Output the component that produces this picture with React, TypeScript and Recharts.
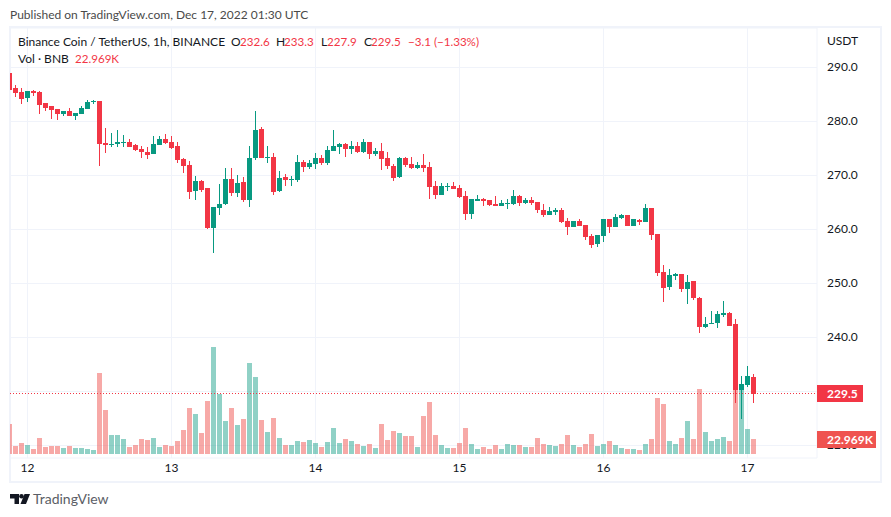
import React from "react";
import { ComposedChart, Bar, XAxis, YAxis, CartesianGrid, ReferenceLine } from "recharts";

// Rows are [open, high, low, close, volume in thousands], one per hour.
const dec11: number[][] = [
  [289.0,289.0,285.8,285.8,45.9],[286.2,286.8,284.5,285.3,12.2],[285.5,286.2,283.2,284.2,16.8],
];
const dec12: number[][] = [
  [284.4,285.7,283.6,285.7,13.8],[285.7,285.8,284.7,285.3,7.7],[285.5,285.7,281.4,283.1,24.5],[283.4,283.4,281.9,282.5,10.7],
  [282.9,282.9,280.5,282.1,12.2],[282.3,282.3,280.3,281.4,12.2],[281.4,281.9,281.0,281.9,9.2],[281.9,282.5,281.0,281.0,12.2],
  [281.0,281.6,280.3,281.6,9.2],[281.4,282.9,281.4,282.5,9.2],[282.3,284.0,282.3,283.6,7.7],[283.6,284.0,283.2,283.8,6.1],
  [283.8,283.8,271.8,275.8,123.9],[276.0,278.8,274.2,275.7,67.3],[275.7,277.9,275.3,275.8,29.1],[275.8,278.4,275.3,276.2,29.1],
  [276.0,277.5,275.3,276.2,23.0],[276.2,276.8,275.3,275.3,10.7],[275.7,275.8,274.5,274.7,13.8],[274.9,275.5,273.2,274.4,23.0],
  [274.4,275.3,273.1,273.8,21.4],[274.0,277.3,274.0,275.8,24.5],[275.7,277.3,275.7,276.8,10.7],[276.8,277.7,275.8,276.0,13.8],
];
const dec13: number[][] = [
  [276.2,277.3,274.9,275.1,12.2],[275.5,276.2,272.3,272.9,19.9],[273.1,273.2,270.5,271.8,36.7],[271.9,272.7,265.7,266.9,70.4],
  [267.1,269.9,265.5,269.0,61.2],[269.0,269.2,266.9,267.3,32.1],[267.7,267.7,260.1,260.3,81.1],[260.3,264.2,255.7,264.2,163.7],
  [264.0,268.4,262.7,264.7,91.8],[264.7,271.4,264.5,269.4,50.5],[269.4,271.4,266.2,266.8,70.4],[266.8,270.1,266.0,268.6,44.4],
  [268.8,269.7,265.1,265.5,53.6],[265.5,275.5,264.2,273.2,139.2],[273.2,281.9,272.9,278.4,117.8],[278.6,279.0,273.2,273.2,52.0],
  [273.2,275.5,272.3,273.4,33.7],[273.4,274.2,266.4,266.9,55.1],[267.1,270.8,266.9,269.5,24.5],[269.7,270.3,268.1,269.2,13.8],
  [269.2,269.9,268.1,269.4,13.8],[269.2,273.8,268.8,272.5,19.9],[272.5,272.9,270.7,271.6,18.4],[271.6,272.9,271.2,272.3,21.4],
];
const dec14: number[][] = [
  [272.1,274.2,271.2,273.2,16.8],[273.2,273.8,271.9,272.3,10.7],[272.3,275.5,271.9,274.7,18.4],[274.5,278.4,274.5,275.5,39.8],
  [275.3,276.0,274.0,275.8,16.8],[275.8,276.0,273.4,274.9,23.0],[274.9,276.4,274.0,275.5,19.9],[275.5,276.2,274.2,274.4,15.3],
  [274.4,276.8,274.2,276.2,12.2],[276.2,276.2,273.1,274.0,15.3],[274.0,275.1,273.6,274.5,9.2],[274.5,276.0,271.0,273.1,45.9],
  [273.2,274.4,271.2,271.8,21.4],[271.8,272.1,269.0,269.5,35.2],[269.7,273.4,269.5,273.2,32.1],[273.2,273.4,271.6,271.9,27.5],
  [272.1,273.4,271.2,271.4,27.5],[271.4,272.5,271.2,271.9,10.7],[271.9,274.0,270.7,271.4,58.1],[271.6,272.5,265.7,267.9,79.6],
  [268.1,269.0,265.7,266.4,29.1],[266.4,268.6,266.4,268.1,13.8],[267.9,268.6,267.1,268.1,9.2],[268.1,268.8,267.5,267.5,9.2],
];
const dec15: number[][] = [
  [267.7,268.2,265.8,266.0,16.8],[266.2,267.1,261.8,262.9,39.8],[262.9,265.7,262.0,265.7,15.3],[265.3,266.4,265.3,265.7,7.7],
  [265.7,265.8,264.4,265.3,10.7],[265.5,265.5,264.4,264.5,7.7],[264.7,266.2,264.4,264.4,13.8],[264.4,265.5,264.4,264.9,7.7],
  [264.7,265.7,263.8,264.9,15.3],[264.7,267.3,264.5,266.2,13.8],[266.2,266.4,264.4,264.9,13.8],[264.9,265.8,264.7,265.5,10.7],
  [265.5,266.0,264.5,264.9,10.7],[265.1,265.1,263.1,263.6,24.5],[263.6,264.7,262.3,262.7,15.3],[262.7,264.2,262.7,263.4,13.8],
  [263.2,264.0,262.7,263.6,12.2],[263.6,264.0,261.2,261.4,15.3],[261.6,262.1,259.0,260.5,29.1],[260.5,261.6,260.5,261.6,13.8],
  [261.6,262.0,260.7,260.7,10.7],[260.8,260.8,258.1,258.6,15.3],[258.8,259.2,256.6,257.1,30.6],[257.3,259.0,256.8,259.0,12.2],
];
const dec16: number[][] = [
  [258.8,262.0,257.7,262.0,15.3],[262.0,262.0,259.4,260.5,19.9],[260.5,262.9,260.5,262.3,13.8],[262.1,262.9,262.0,262.7,9.2],
  [262.7,262.7,260.7,260.7,7.7],[260.7,262.0,260.7,262.0,7.7],[261.8,262.0,260.8,261.4,6.1],[261.4,264.7,261.4,264.0,15.3],
  [264.0,264.0,258.1,259.0,23.0],[259.2,259.2,251.4,252.0,85.7],[252.1,253.4,246.6,249.2,76.5],[249.4,252.7,248.8,251.6,19.9],
  [251.4,251.9,250.7,251.8,15.3],[251.8,251.8,248.4,249.0,24.5],[249.0,251.6,246.2,250.3,50.5],[250.5,250.5,246.9,247.3,23.0],
  [247.3,247.5,240.8,241.9,99.5],[241.9,243.8,241.8,242.5,33.7],[242.5,244.9,242.5,242.7,19.9],[242.7,244.9,241.8,244.4,23.0],
  [244.2,246.8,243.8,244.5,26.0],[244.5,244.7,242.1,242.1,19.9],[242.5,243.4,227.9,230.3,98.0],[230.3,232.9,224.9,231.4,100.0],
];
const dec17: number[][] = [
  [231.2,234.7,230.8,232.9,38.3],[232.6,233.3,227.9,229.5,22.969],
];

const dayTicks = [0, 24, 48, 72, 96, 120];
const dayLabels = ["12", "13", "14", "15", "16", "17"];
const priceTicks = [220, 230, 240, 250, 260, 270, 280, 290];
const coveredPriceTick = 230;
const lastPrice = 229.5;
const lastVolume = 22.969;
const lastVolumeLabel = "22.969K";
const hourDomain = [-2.9167, 131.5833];
const priceDomain = [217.685, 297.315];
const volumeDomain = [-6.124, 652.206];

const UP = "#089981";
const DOWN = "#f23645";
const UP_VOL = "rgba(8,153,129,0.45)";
const DOWN_VOL = "rgba(239,83,80,0.5)";
const GRID = "#f0f3fa";
const FONT = "Lato, sans-serif";

const table = [...dec11, ...dec12, ...dec13, ...dec14, ...dec15, ...dec16, ...dec17].map((r, n) => ({
  hour: n - 3,
  open: r[0],
  high: r[1],
  low: r[2],
  close: r[3],
  volume: r[4],
  range: [r[2], r[1]],
}));

function Candle(props: any) {
  const { x, y, height, payload } = props;
  const { open, high, low, close } = payload;
  const k = height / (high - low);
  const top = Math.round(y + (high - Math.max(open, close)) * k);
  const bot = Math.round(y + (high - Math.min(open, close)) * k);
  const color = close >= open ? UP : DOWN;
  const left = Math.round(x);
  return (
    <g>
      <rect x={left + 2} y={Math.round(y)} width={1} height={Math.max(1, Math.round(y + height) - Math.round(y))} fill={color} />
      <rect x={left} y={top} width={5} height={Math.max(1, bot - top)} fill={color} />
    </g>
  );
}

function VolumeBar(props: any) {
  const { x, y, height, payload } = props;
  const top = Math.round(y);
  return (
    <rect
      x={Math.round(x)}
      y={top}
      width={5}
      height={Math.round(y + height) - top}
      fill={payload.close >= payload.open ? UP_VOL : DOWN_VOL}
    />
  );
}

function Tag(props: any) {
  const { viewBox, text, fill, w, up } = props;
  const left = viewBox.x + viewBox.width;
  const top = Math.round(viewBox.y - up);
  return (
    <g>
      <rect x={left} y={top} width={w} height={17} fill={fill} />
      <text x={left + 10} y={top + 13} fontSize={12} fontWeight={700} fill="#fff" fontFamily={FONT}>
        {text}
      </text>
    </g>
  );
}

function DottedLine(props: any) {
  const { x1, x2, y1 } = props;
  const y = Math.floor(y1) - 0.5;
  return <line x1={x1} x2={x2} y1={y} y2={y} stroke={DOWN} strokeWidth={1} strokeDasharray="1 2" />;
}

function Txt({ x, y, c = "#131722", s = 12, children }: any) {
  return (
    <div
      style={{
        position: "absolute",
        left: x,
        top: y,
        fontFamily: FONT,
        fontSize: s,
        color: c,
        lineHeight: "16px",
        whiteSpace: "nowrap",
      }}
    >
      {children}
    </div>
  );
}

export default function App() {
  const red = DOWN;
  return (
    <div style={{ position: "absolute", left: 0, top: 0, width: 891, height: 517, background: "#fff", overflow: "hidden" }}>
      <div
        style={{
          position: "absolute",
          left: 9,
          top: 26,
          width: 869,
          height: 453,
          border: `2px solid ${GRID}`,
        }}
      />
      <div style={{ position: "absolute", left: 0, top: 0 }}>
        <ComposedChart width={891} height={517} data={table} margin={{ top: 28, left: 10, right: 0, bottom: 39 }}>
          <XAxis
            xAxisId="main"
            dataKey="hour"
            type="number"
            domain={hourDomain}
            allowDataOverflow
            ticks={dayTicks}
            interval={0}
            height={20}
            tickLine={false}
            axisLine={false}
            tickSize={0}
            tickMargin={5}
            tick={{ fontSize: 12, fill: "#131722", fontFamily: FONT }}
            tickFormatter={(v: number) => dayLabels[dayTicks.indexOf(v)]}
          />
          <XAxis xAxisId="vol" dataKey="hour" type="number" domain={hourDomain} allowDataOverflow hide />
          <YAxis
            yAxisId="price"
            orientation="right"
            width={74}
            domain={priceDomain}
            allowDataOverflow
            ticks={priceTicks}
            interval={0}
            tickLine={false}
            axisLine={false}
            tickSize={0}
            tickMargin={10}
            tick={{ fontSize: 12, fill: "#131722", fontFamily: FONT, dy: -1 }}
            tickFormatter={(v: number) => (v === coveredPriceTick ? "" : v.toFixed(1))}
          />
          <YAxis yAxisId="volume" orientation="left" width={0} domain={volumeDomain} allowDataOverflow hide />
          <CartesianGrid xAxisId="main" yAxisId="price" stroke={GRID} strokeWidth={1} />
          <Bar xAxisId="vol" yAxisId="volume" dataKey="volume" barSize={5} shape={<VolumeBar />} isAnimationActive={false} />
          <Bar xAxisId="main" yAxisId="price" dataKey="range" barSize={5} shape={<Candle />} isAnimationActive={false} />
        </ComposedChart>
      </div>

      <div style={{ position: "absolute", left: 0, top: 0 }}>
        <ComposedChart width={891} height={517} data={table} margin={{ top: 28, left: 10, right: 74, bottom: 59 }}>
          <XAxis xAxisId="main" dataKey="hour" type="number" domain={hourDomain} allowDataOverflow hide />
          <YAxis yAxisId="price" domain={priceDomain} allowDataOverflow hide />
          <YAxis yAxisId="volume" domain={volumeDomain} allowDataOverflow hide />
          <ReferenceLine
            xAxisId="main"
            yAxisId="price"
            y={lastPrice}
            shape={<DottedLine />}
            label={<Tag text={lastPrice.toFixed(1)} fill={red} w={46} up={9} />}
          />
          <ReferenceLine
            xAxisId="main"
            yAxisId="volume"
            y={lastVolume}
            stroke="none"
            label={<Tag text={lastVolumeLabel} fill="#ef5350" w={59} up={8} />}
          />
        </ComposedChart>
      </div>

      <Txt x={10} y={7} c="#4a4a4a">Published on TradingView.com, Dec 17, 2022 01:30 UTC</Txt>
      <Txt x={18} y={34}>Binance Coin / TetherUS, 1h, BINANCE</Txt>
      <Txt x={231} y={34}>O</Txt>
      <Txt x={240} y={34} c={red} s={11.6}>232.6</Txt>
      <Txt x={276} y={34}>H</Txt>
      <Txt x={284} y={34} c={red} s={11.6}>233.3</Txt>
      <Txt x={321} y={34}>L</Txt>
      <Txt x={327} y={34} c={red} s={11.6}>227.9</Txt>
      <Txt x={364} y={34}>C</Txt>
      <Txt x={371} y={34} c={red} s={11.6}>229.5</Txt>
      <Txt x={408} y={34} c={red} s={11.6}>−3.1 (−1.33%)</Txt>
      <Txt x={18} y={51}>Vol · BNB</Txt>
      <Txt x={75} y={51} c={red} s={11.6}>22.969K</Txt>
      <Txt x={827} y={33}>USDT</Txt>

      <svg style={{ position: "absolute", left: 10, top: 494 }} width={21} height={11}>
        <path d="M0 0H9V10H4.5V4.5H0Z" fill="#131722" />
        <circle cx={11.5} cy={2.3} r={2.3} fill="#131722" />
        <path d="M14.5 0H20L16 10H10.5Z" fill="#131722" />
      </svg>
      <Txt x={33} y={491} c="#5b5e66" s={14}>TradingView</Txt>
    </div>
  );
}
